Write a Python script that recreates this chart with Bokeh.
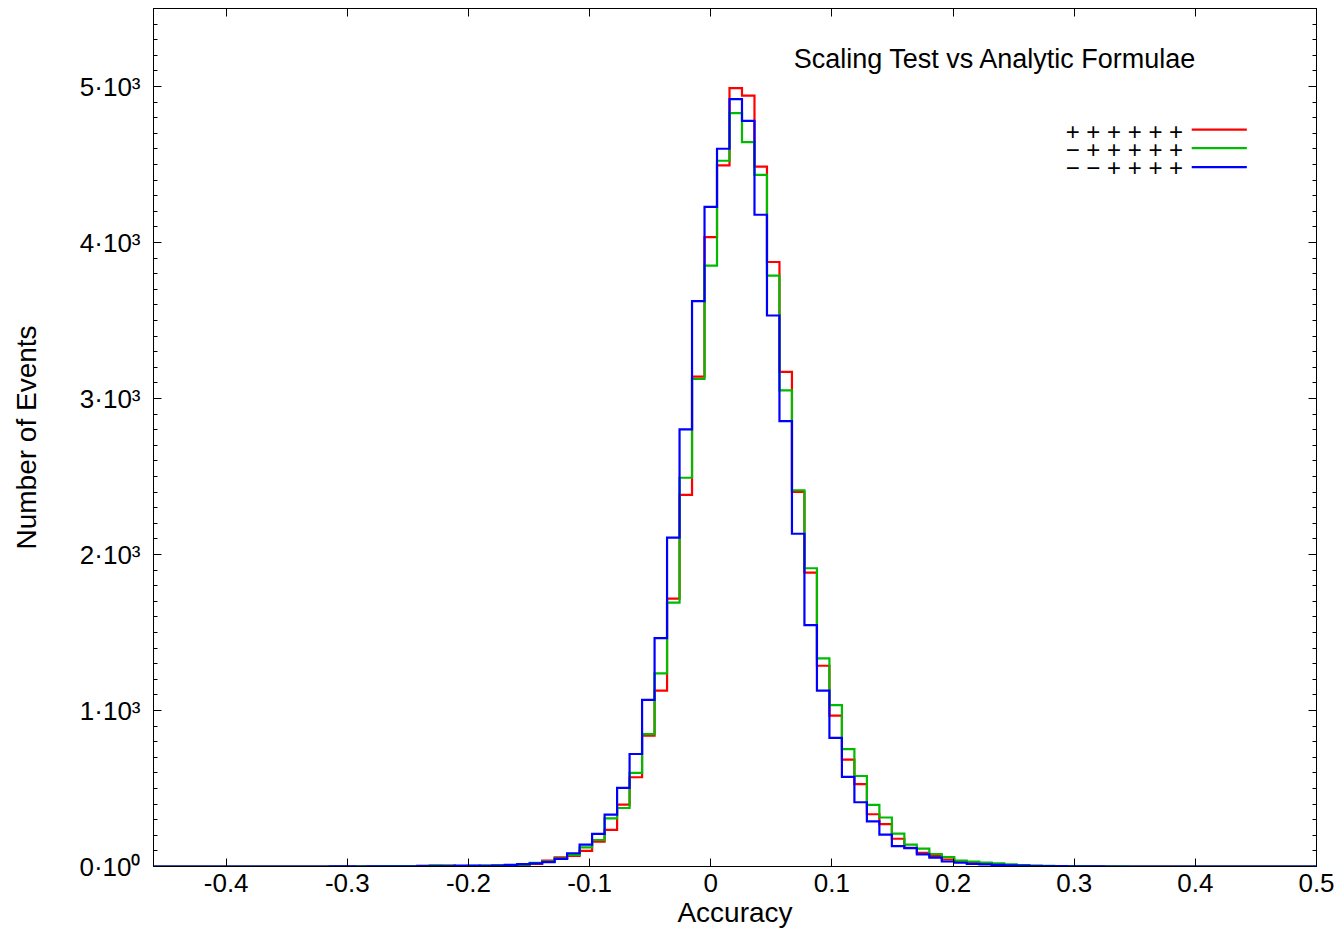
import numpy as np
from bokeh.plotting import figure
from bokeh.models import LinearAxis, FixedTicker, Range1d, Label
from bokeh.embed import file_html
from bokeh.resources import INLINE

# ---------------- data ----------------
title_text = "Scaling Test vs Analytic Formulae"
x_title = "Accuracy"
y_title = "Number of Events"

x_ticks = [-0.4, -0.3, -0.2, -0.1, 0.0, 0.1, 0.2, 0.3, 0.4, 0.5]
x_tick_labels = ["-0.4", "-0.3", "-0.2", "-0.1", "0", "0.1", "0.2", "0.3", "0.4", "0.5"]
y_ticks = [0, 1000, 2000, 3000, 4000, 5000]
y_tick_labels = ["0·10⁰", "1·10³", "2·10³", "3·10³", "4·10³", "5·10³"]

series_names = ["+ + + + + +", "− + + + + +", "− − + + + +"]
series_colors = ["#ff0000", "#00bb00", "#0000ff"]

# histogram binning: 97 equal bins on [-0.5, 0.5]
hist_lo, hist_hi, n_bins = -0.5, 0.5, 97

counts_pppppp = [
    0, 0, 0, 0, 0, 0, 0, 0, 0, 0, 0, 0, 0, 0, 0, 0, 0, 0,
    0, 1, 1, 1, 1, 2, 2, 4, 6, 5, 3, 3, 4, 6, 8,
    10, 16, 38, 58, 68, 100, 160, 235, 396, 572, 839, 1127, 1717, 2382, 3140,
    4035, 4494, 4989, 4942, 4486, 3875, 3171, 2401, 1884, 1287, 967, 685, 528,
    335, 272, 178, 120, 88, 68, 45, 29, 22, 16, 12, 8, 6,
    4, 3, 2, 2, 1, 1, 1, 0,
    0, 0, 0, 0, 0, 0, 0, 0, 0, 0, 0, 0, 0, 0, 0,
]
counts_mppppp = [
    0, 0, 0, 0, 0, 0, 0, 0, 0, 0, 0, 0, 0, 0, 0, 0, 0, 0,
    1, 0, 1, 1, 2, 2, 3, 4, 7, 6, 3, 4, 5, 7, 9,
    12, 24, 32, 53, 75, 122, 170, 308, 375, 600, 849, 1238, 1692, 2492, 3125,
    3852, 4524, 4829, 4643, 4434, 3788, 3052, 2412, 1912, 1334, 1035, 752, 580,
    395, 314, 211, 140, 115, 80, 60, 38, 32, 25, 20, 13, 9,
    6, 4, 3, 2, 2, 1, 1, 1,
    0, 0, 0, 0, 0, 0, 0, 0, 0, 0, 0, 0, 0, 0, 0,
]
counts_mmpppp = [
    0, 0, 0, 0, 0, 0, 0, 0, 0, 0, 0, 0, 0, 0, 0, 0, 0, 0,
    1, 1, 0, 1, 1, 1, 1, 2, 2, 3, 6, 5, 4, 6, 10,
    15, 20, 28, 49, 85, 140, 209, 332, 504, 721, 1068, 1464, 2108, 2802, 3624,
    4229, 4601, 4919, 4780, 4178, 3532, 2855, 2133, 1547, 1127, 824, 575, 412,
    289, 204, 131, 118, 78, 57, 32, 24, 17, 13, 10, 7, 5,
    3, 2, 2, 1, 1, 1, 0, 0,
    0, 0, 0, 0, 0, 0, 0, 0, 0, 0, 0, 0, 0, 0, 0,
]
all_counts = [counts_pppppp, counts_mppppp, counts_mmpppp]

# ---------------- figure ----------------
FONT = "Liberation Sans"
p = figure(
    width=1342, height=930,
    x_range=Range1d(-0.46, 0.5), y_range=Range1d(0, 5500),
    output_backend="svg", toolbar_location=None,
    min_border_left=153, min_border_right=26,
    min_border_top=8, min_border_bottom=64,
)
p.background_fill_color = "white"
p.border_fill_color = "white"
p.outline_line_color = "black"
p.outline_line_width = 1
p.xgrid.visible = False
p.ygrid.visible = False

edges = np.linspace(hist_lo, hist_hi, n_bins + 1)
for counts, color in zip(all_counts, series_colors):
    ys = list(counts) + [counts[-1]]
    p.step(x=edges, y=ys, mode="after", line_color=color, line_width=2.2,
           line_join="miter")

xa = p.xaxis[0]
xa.ticker = FixedTicker(ticks=x_ticks, minor_ticks=[])
xa.major_label_overrides = {t: l for t, l in zip(x_ticks, x_tick_labels)}
xa.axis_label = x_title
ya = p.yaxis[0]
ya.ticker = FixedTicker(ticks=y_ticks, minor_ticks=list(range(0, 5501, 100)))
ya.major_label_overrides = {t: l for t, l in zip(y_ticks, y_tick_labels)}
ya.axis_label = y_title

for ax in (xa, ya):
    ax.axis_line_color = "black"
    ax.major_tick_in = 8
    ax.major_tick_out = 0
    ax.minor_tick_in = 4
    ax.minor_tick_out = 0
    ax.major_tick_line_color = "black"
    ax.minor_tick_line_color = "black"
    ax.major_label_text_font = FONT
    ax.major_label_text_font_size = "26px"
    ax.major_label_text_color = "black"
    ax.axis_label_text_font = FONT
    ax.axis_label_text_font_size = "28px"
    ax.axis_label_text_font_style = "normal"
    ax.axis_label_text_color = "black"

xa.major_label_standoff = 7
xa.axis_label_standoff = 2
ya.major_label_standoff = 13
ya.axis_label_standoff = 34

# mirrored axes (ticks only, labels not drawn)
top = LinearAxis(ticker=FixedTicker(ticks=x_ticks, minor_ticks=[]))
right = LinearAxis(ticker=FixedTicker(ticks=y_ticks, minor_ticks=list(range(0, 5501, 100))))
for ax in (top, right):
    ax.major_label_text_font_size = "1px"
    ax.major_label_text_color = None
    ax.major_label_standoff = 0
    ax.major_tick_in = 8
    ax.major_tick_out = 0
    ax.minor_tick_in = 4
    ax.minor_tick_out = 0
    ax.axis_line_color = "black"
p.add_layout(top, "above")
p.add_layout(right, "right")

# title inside the frame
p.add_layout(Label(x=0.0684, y=5178, text=title_text, text_font=FONT,
                   text_font_size="27px", text_baseline="middle",
                   text_align="left", text_color="black"))

# key: labels on left, line samples on right
key_text_y = [4712, 4598, 4481]
key_line_y = [4723, 4605, 4483]
for name, color, ty, ly in zip(series_names, series_colors, key_text_y, key_line_y):
    p.add_layout(Label(x=0.3899, y=ty, text=name, text_font=FONT,
                       text_font_size="24px", text_baseline="middle",
                       text_align="right", text_color="black"))
    p.segment(x0=[0.397], y0=[ly], x1=[0.4425], y1=[ly], line_color=color,
              line_width=2.2)

open("out.html", "w").write(file_html(p, INLINE))
